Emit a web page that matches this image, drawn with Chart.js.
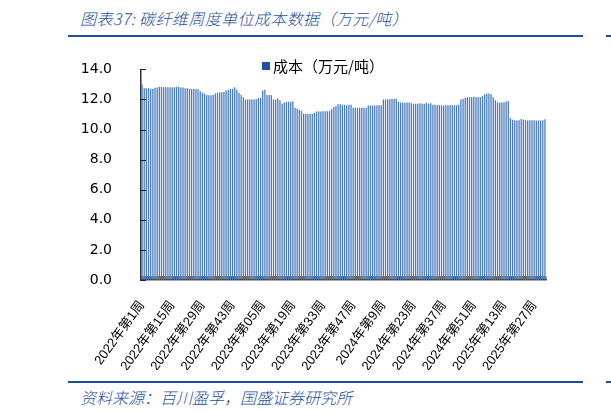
<!DOCTYPE html>
<html>
<head>
<meta charset="utf-8">
<script src="https://cdn.jsdelivr.net/npm/chart.js@4.4.1/dist/chart.umd.min.js"></script>
<style>
  body { margin: 0; width: 611px; height: 412px; background: #fff; position: relative; overflow: hidden; font-family: "Noto Sans CJK SC", sans-serif; }
  .title { position: absolute; left: 80px; top: 6px; font-size: 16px; font-weight: 300; letter-spacing: 0.4px; font-style: italic; color: #1f4e9c; white-space: nowrap; }
  .rule { position: absolute; left: 68px; width: 515px; height: 2px; background: #1a4f9c; }
  .rule-end { position: absolute; left: 606px; width: 5px; height: 2px; background: #1a4f9c; }
  .source { position: absolute; left: 80px; top: 385px; font-size: 16px; font-weight: 300; font-style: italic; color: #1f4e9c; white-space: nowrap; }
  #legend { position: absolute; left: 262px; top: 55px; font-size: 15px; color: #000; white-space: nowrap; }
  #legend i { display: inline-block; width: 8px; height: 8px; background: #2450a0; margin-right: 3px; vertical-align: 2px; }
  #wrap { position: absolute; left: 40px; top: 40px; width: 571px; height: 330px; }
</style>
</head>
<body>
<div class="title">图表37:&nbsp;碳纤维周度单位成本数据（万元/吨）</div>
<div class="rule" style="top:35px"></div>
<div class="rule-end" style="top:35px"></div>
<div id="wrap"><canvas id="c"></canvas></div>
<div id="legend"></div>
<div class="rule" style="top:381px"></div>
<div class="rule-end" style="top:381px"></div>
<div class="source">资料来源：百川盈孚，国盛证券研究所</div>
<script>
// weekly categories: 2022 wk1 .. 2025 wk32
const years = [2022, 2023, 2024, 2025];
const weeksInYear = [52, 52, 52, 32];
const categories = [];
years.forEach((y, k) => {
  for (let w = 1; w <= weeksInYear[k]; w++) categories.push(`${y}年第${w}周`);
});

// labels shown on the axis, one every 14 weeks
const tickLabels = [
  '2022年第1周', '2022年第15周', '2022年第29周', '2022年第43周',
  '2023年第05周', '2023年第19周', '2023年第33周', '2023年第47周',
  '2024年第9周', '2024年第23周', '2024年第37周', '2024年第51周',
  '2025年第13周', '2025年第27周'
];
const tickEvery = 14;

const seriesName = '成本（万元/吨）';
const cost = [
  13.0,
  12.75, 12.75, 12.75, 12.72, 12.72,
  12.78, 12.8, 12.85, 12.85, 12.82, 12.82, 12.82, 12.82, 12.8, 12.82, 12.85, 12.85, 12.8, 12.8, 12.75, 12.75, 12.72, 12.72,
  12.7, 12.7, 12.68,
  12.55, 12.45, 12.4,
  12.3, 12.28, 12.28, 12.3,
  12.4, 12.45, 12.48, 12.48, 12.5,
  12.6, 12.65, 12.7, 12.72, 12.82,
  12.65, 12.45, 12.3, 12.15,
  12.0, 12.0, 12.0, 12.0, 12.0, 12.02,
  12.1, 12.1,
  12.6, 12.65, 12.3,
  12.3, 12.28, 12.0,
  12.0, 12.08, 11.95,
  11.72,
  11.8, 11.85, 11.85, 11.85, 11.88,
  11.45, 11.4, 11.3,
  11.25,
  11.05, 11.05, 11.05, 11.05, 11.05, 11.1,
  11.2, 11.2, 11.2, 11.22, 11.22, 11.22, 11.25,
  11.35,
  11.5, 11.55,
  11.68, 11.68, 11.65, 11.65, 11.6, 11.65, 11.65,
  11.45, 11.45, 11.45, 11.45, 11.45, 11.45, 11.45,
  11.6, 11.6, 11.6, 11.6, 11.62, 11.62, 11.62,
  12.0, 12.0, 12.02, 12.02, 12.05, 12.05, 12.05, 11.85,
  11.8, 11.8, 11.78, 11.8, 11.8, 11.75,
  11.72, 11.72, 11.72, 11.75, 11.72, 11.72, 11.78, 11.72, 11.75,
  11.65, 11.65, 11.62, 11.62, 11.62, 11.6, 11.62, 11.62, 11.62, 11.62, 11.62, 11.62, 11.65,
  12.0, 12.05,
  12.12, 12.15, 12.15, 12.15, 12.18, 12.15, 12.15, 12.15,
  12.25, 12.35, 12.4, 12.4, 12.35,
  12.15, 11.95,
  11.82, 11.8, 11.8, 11.82, 11.88,
  11.88,
  10.75, 10.65, 10.62, 10.6, 10.62,
  10.7, 10.65, 10.65, 10.62, 10.62, 10.62, 10.62, 10.6, 10.6, 10.6, 10.62, 10.68
];

document.getElementById('legend').innerHTML = `<i></i>${seriesName}`;

// short tick marks drawn inward, like the original
const innerTicks = {
  id: 'innerTicks',
  afterDatasetsDraw(chart) {
    const { ctx, chartArea: a, scales: { x, y } } = chart;
    ctx.save();
    ctx.strokeStyle = '#222';
    ctx.lineWidth = 1;
    y.ticks.forEach(t => {
      const py = Math.round(y.getPixelForValue(t.value)) + 0.5;
      ctx.beginPath(); ctx.moveTo(a.left, py); ctx.lineTo(a.left + 5, py); ctx.stroke();
    });
    const half = (x.getPixelForValue(1) - x.getPixelForValue(0)) / 2;
    ctx.strokeStyle = 'rgba(30,30,30,0.7)';
    for (let i = 0; i <= categories.length; i++) {
      const px = x.getPixelForValue(i) - half;
      ctx.beginPath(); ctx.moveTo(px, a.bottom); ctx.lineTo(px, a.bottom - 4); ctx.stroke();
    }
    ctx.restore();
  }
};

new Chart(document.getElementById('c'), {
  type: 'bar',
  data: {
    labels: categories,
    datasets: [{
      label: seriesName,
      data: cost,
      backgroundColor: '#4a7bbd',
      categoryPercentage: 1,
      barPercentage: 0.6
    }]
  },
  options: {
    responsive: true,
    maintainAspectRatio: false,
    animation: false,
    layout: { padding: { left: 0, right: 65, top: 28, bottom: 0 } },
    plugins: { legend: { display: false }, tooltip: { enabled: false } },
    scales: {
      x: {
        grid: { display: false },
        border: { display: true, color: '#555', width: 1.5 },
        afterFit: s => { s.height = 90; },
        ticks: {
          autoSkip: false,
          maxRotation: 54,
          minRotation: 54,
          padding: 10,
          color: '#000',
          font: { family: '"Liberation Sans", "Noto Sans CJK SC"', size: 13 },
          callback: (v, i) => (i % tickEvery === 0 ? tickLabels[i / tickEvery] : '')
        }
      },
      y: {
        min: 0,
        max: 14,
        grid: { display: false },
        border: { display: true, color: '#333', width: 1.5 },
        afterFit: s => { s.width = 101; },
        ticks: {
          stepSize: 2,
          padding: 21,
          color: '#000',
          font: { family: '"DejaVu Sans"', size: 14 },
          callback: v => v.toFixed(1)
        }
      }
    }
  },
  plugins: [innerTicks]
});
</script>
</body>
</html>
